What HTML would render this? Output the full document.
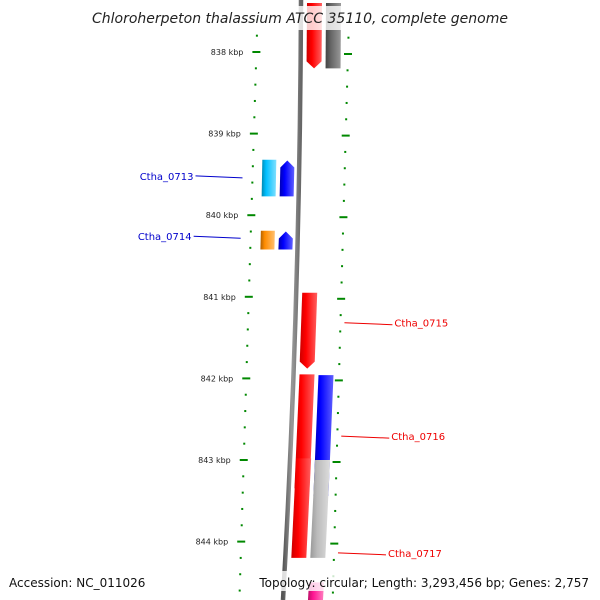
<!DOCTYPE html>
<html><head><meta charset="utf-8"><style>
body{margin:0;background:#fff}
svg{display:block;font-family:"DejaVu Sans","Liberation Sans",sans-serif}
</style></head><body>
<svg id="map" width="600" height="600" viewBox="0 0 600 600">
<defs>
<linearGradient id="gRed" x1="0" x2="1"><stop offset="0" stop-color="#c00"/><stop offset="0.35" stop-color="#f00"/><stop offset="1" stop-color="#ff6060"/></linearGradient>
<linearGradient id="gBlue" x1="0" x2="1"><stop offset="0" stop-color="#0000b0"/><stop offset="0.35" stop-color="#00f"/><stop offset="1" stop-color="#6060ff"/></linearGradient>
<linearGradient id="gCyan" x1="0" x2="1"><stop offset="0" stop-color="#0088b0"/><stop offset="0.3" stop-color="#00bfff"/><stop offset="1" stop-color="#80e0ff"/></linearGradient>
<linearGradient id="gOrange" x1="0" x2="1"><stop offset="0" stop-color="#b06000"/><stop offset="0.3" stop-color="#ff8c00"/><stop offset="1" stop-color="#ffc070"/></linearGradient>
<linearGradient id="gGray" x1="0" x2="1"><stop offset="0" stop-color="#444"/><stop offset="0.35" stop-color="#666"/><stop offset="1" stop-color="#999"/></linearGradient>
<linearGradient id="gLGray" x1="0" x2="1"><stop offset="0" stop-color="#999"/><stop offset="0.35" stop-color="#bbb"/><stop offset="1" stop-color="#ddd"/></linearGradient>
<linearGradient id="gPink" x1="0" x2="1"><stop offset="0" stop-color="#b01060"/><stop offset="0.35" stop-color="#ff1493"/><stop offset="1" stop-color="#ff80c0"/></linearGradient>
<linearGradient id="gBack" x1="0" x2="1"><stop offset="0" stop-color="#555"/><stop offset="0.5" stop-color="#999"/><stop offset="1" stop-color="#666"/></linearGradient>
</defs>
<g id="ticks"></g>
<path d="M301 0 Q300 300 283 600" stroke="url(#gBack)" stroke-width="4.5" fill="none"/>
<g id="genes"></g>
<g id="labels"></g>
<rect x="90" y="6" width="420" height="24" fill="#fff" opacity="0.8"/>
<text x="300" y="23" text-anchor="middle" font-size="14" font-style="italic" fill="#222">Chloroherpeton thalassium ATCC 35110, complete genome</text>
<rect x="255" y="571" width="340" height="20" fill="#fff" opacity="0.8"/>
<text x="9" y="587" font-size="12" fill="#111">Accession: NC_011026</text>
<text x="589" y="587" text-anchor="end" font-size="12" fill="#111">Topology: circular; Length: 3,293,456 bp; Genes: 2,757</text>
</svg>
<script>
const kbpLabels=[838,839,840,841,842,843,844];
const geneNames=["gene-top-a","gene-top-b","Ctha_0713a","Ctha_0713","Ctha_0714a","Ctha_0714","Ctha_0715","Ctha_0716a","Ctha_0716","Ctha_0717","Ctha_0717b","gene-bottom"];
const geneStart=[837.4,837.4,839.32,839.33,840.19,840.2,840.95,841.95,841.96,842.98,843.0,844.5];
const geneEnd=[838.2,838.2,839.77,839.77,840.42,840.42,841.88,843.43,843.44,844.2,844.2,844.9];
const geneLane=[1,2,-2,-1,-2,-1,1,1,2,1,2,2];
const geneDir=[1,0,0,-1,0,-1,1,1,0,0,0,0];
const geneFill=["gRed","gGray","gCyan","gBlue","gOrange","gBlue","gRed","gRed","gBlue","gRed","gLGray","gPink"];
const labelNames=["Ctha_0713","Ctha_0714","Ctha_0715","Ctha_0716","Ctha_0717"];
const labelKbp=[839.53,840.27,841.33,842.72,844.15];
const labelSide=[-1,-1,1,1,1];
const NS="http://www.w3.org/2000/svg";
function yOf(k){return 52+(k-838)*81.6;}
function leftX(y){return 258-0.031*y;}
function rightX(y){return 349.5-0.028*y;}
function backX(y){const t=y/600;return (1-t)*(1-t)*301+2*t*(1-t)*300+t*t*283;}
function mk(tag,attrs,parent){const e=document.createElementNS(NS,tag);for(const k in attrs)e.setAttribute(k,attrs[k]);parent.appendChild(e);return e;}
const tg=document.getElementById('ticks');
for(let k=837.6;k<=844.8+1e-6;k+=0.2){
 const y=yOf(k);const major=Math.abs(k-Math.round(k))<0.01;
 const lx=leftX(y),rx=rightX(y+2);
 const a=mk('line',{x1:lx-(major?4:1),x2:lx+(major?4:1),y1:y,y2:y,stroke:'#080',"stroke-width":2},tg);
 
 
 const b=mk('line',{x1:rx-(major?4:1),x2:rx+(major?4:1),y1:y+2,y2:y+2,stroke:'#080',"stroke-width":2},tg);
 
 
}
kbpLabels.forEach(k=>{const y=yOf(k);const t=mk('text',{x:leftX(y)-13,y:y+3,"text-anchor":"end","font-size":8,fill:'#222'},tg);t.textContent=k+' kbp';
 
 });
const gg=document.getElementById('genes');
geneNames.forEach((n,i)=>{
 const y1=yOf(geneStart[i]),y2=yOf(geneEnd[i]);
 const l=geneLane[i];
 const off=l>0?(l==1?6:25):(l==-1?-19:-37);
 const w=l>0?15:14;
 const x1=backX(y1)+off,x2=backX(y2)+off;
 let pts;
 const tip=7;
 if(geneDir[i]==1){pts=[[x1,y1],[x1+w,y1],[x2+w,y2-tip],[x2+w/2,y2],[x2,y2-tip]];}
 else if(geneDir[i]==-1){pts=[[x1,y1+tip],[x1+w/2,y1],[x1+w,y1+tip],[x2+w,y2],[x2,y2]];}
 else pts=[[x1,y1],[x1+w,y1],[x2+w,y2],[x2,y2]];
 const p=mk('polygon',{points:pts.map(q=>q.join(',')).join(' '),fill:'url(#'+geneFill[i]+')'},gg);
 
 
});
const lg=document.getElementById('labels');
labelNames.forEach((n,i)=>{
 const y=yOf(labelKbp[i]);const col=labelSide[i]<0?'#00c':'#e00';
 let lx1,lx2,tx,anchor;
 if(labelSide[i]<0){lx2=leftX(y)-10;lx1=lx2-47;tx=lx1-2;anchor='end';}
 else{lx1=rightX(y)+4;lx2=lx1+48;tx=lx2+2;anchor='start';}
 const ln=mk('line',{x1:lx1,x2:lx2,y1:y-1,y2:y+1,stroke:col,"stroke-width":1},lg);
 
 
 const t=mk('text',{x:tx,y:y+3,"text-anchor":anchor,"font-size":10,fill:col},lg);t.textContent=n;
 
 
});
</script>
</body></html>
